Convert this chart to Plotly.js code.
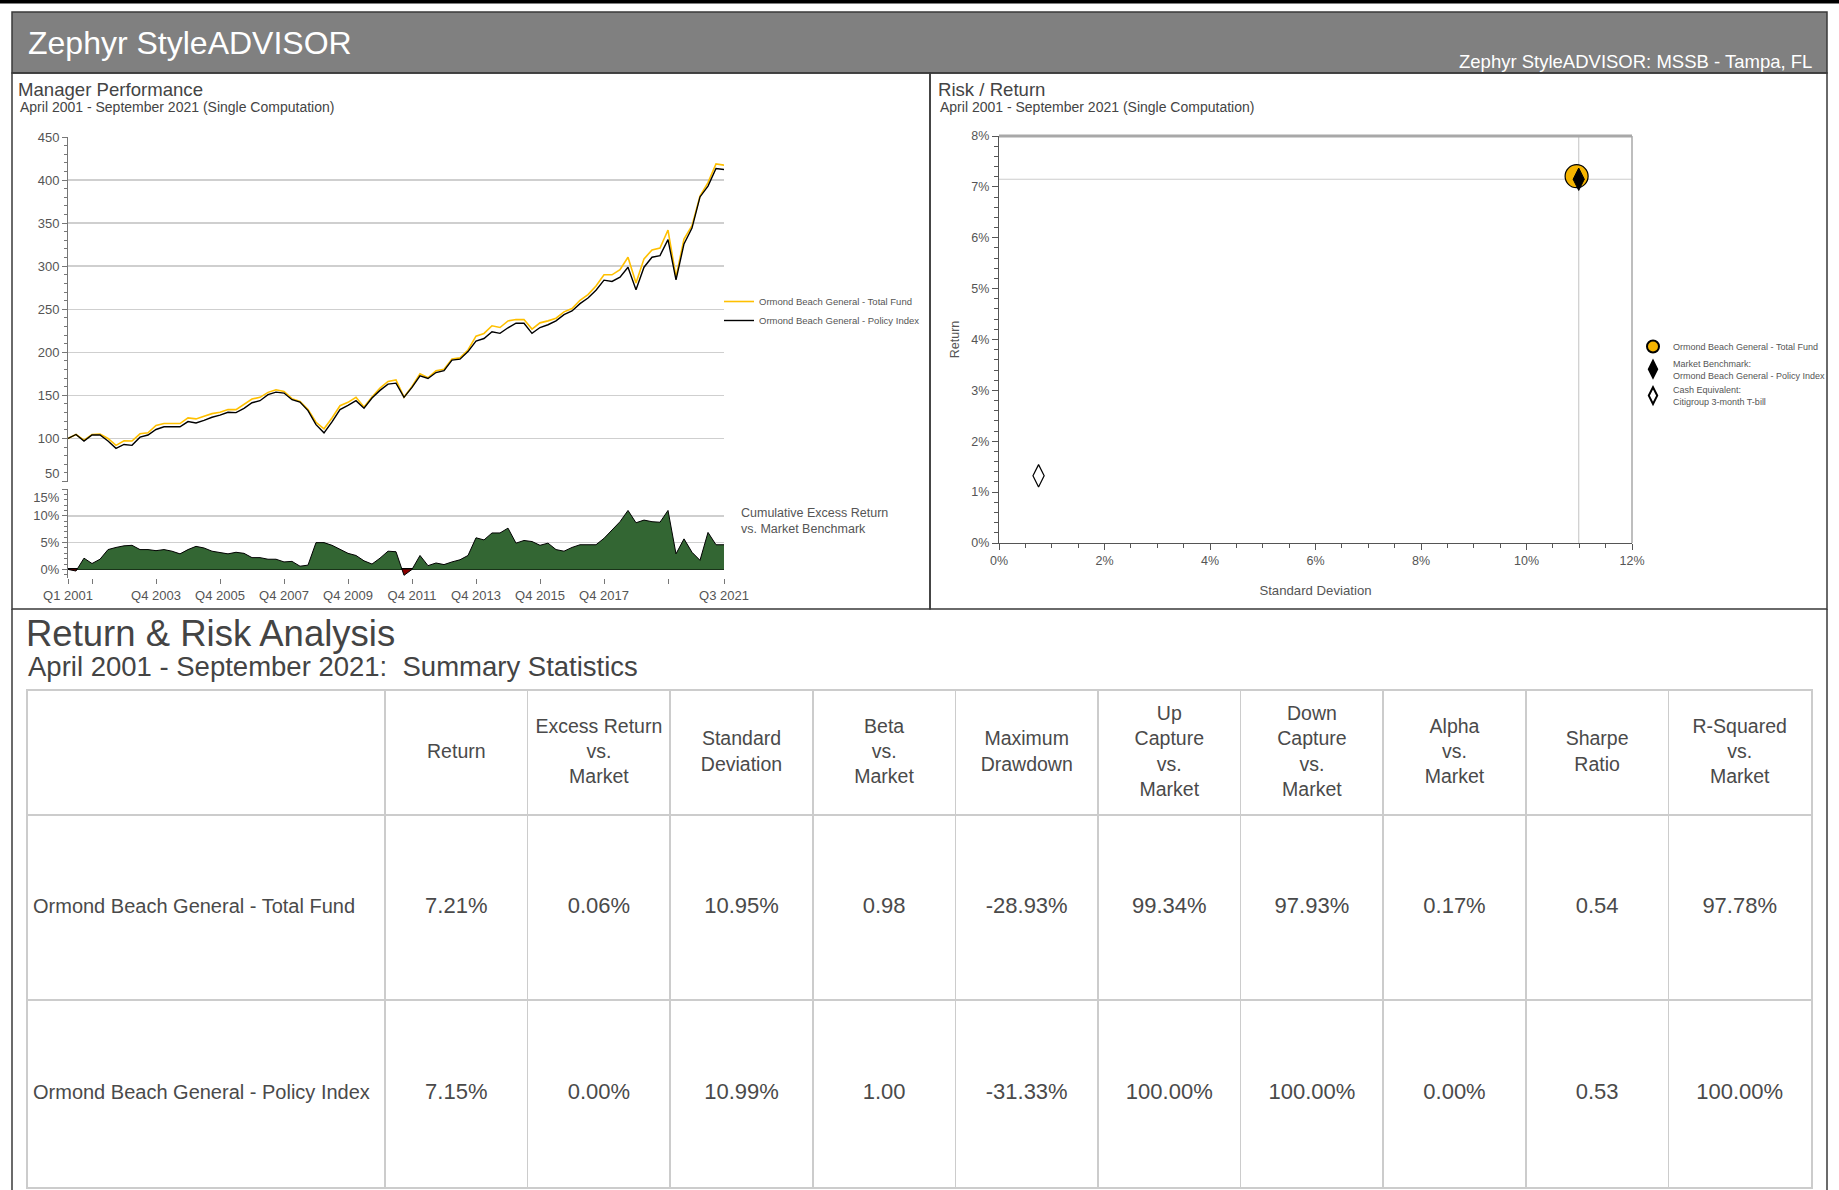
<!DOCTYPE html>
<html>
<head>
<meta charset="utf-8">
<script src="https://cdn.plot.ly/plotly-3.0.1.min.js"></script>
<style>html,body{margin:0;padding:0;background:#fff;}#chart{width:1839px;height:1190px;}</style>
</head>
<body>
<div id="chart"></div>
<script>
// ---------------- DATA ----------------
const quarters = [];
for (let yr = 2001; yr <= 2021; yr++) {
  for (let q = 1; q <= 4; q++) {
    if (yr === 2021 && q > 3) break;
    quarters.push('Q' + q + ' ' + yr);
  }
}
const tickQuarters = ['Q1 2001','Q4 2001','Q4 2003','Q4 2005','Q4 2007','Q4 2009','Q4 2011','Q4 2013','Q4 2015','Q4 2017','Q4 2019','Q3 2021'];
const tickLabels   = ['Q1 2001','','Q4 2003','Q4 2005','Q4 2007','Q4 2009','Q4 2011','Q4 2013','Q4 2015','Q4 2017','','Q3 2021'];

const fundName = 'Ormond Beach General - Total Fund';
const policyName = 'Ormond Beach General - Policy Index';

const fundIndex = [100, 104.6, 98, 104.5, 105, 100, 92, 97.3, 97, 105.4,
 106.5, 115, 117.3, 117.3, 117.3, 123.8, 122.7, 125.8, 128.8, 130.4,
 133.5, 133.5, 139.2, 145.8, 147.7, 153.5, 156.5, 154.6, 146.2, 143,
 133.5, 118.8, 111.2, 123.8, 138, 141.9, 147.7, 136.5, 148, 158.5,
 166.2, 168, 148, 160.4, 175, 170.4, 178.5, 180.4, 192.3, 193.5,
 202.7, 218.8, 221.9, 230.8, 228.8, 236.5, 238, 238, 227, 234.2,
 236.5, 239.6, 247, 250.8, 260.4, 267, 277, 290, 290, 296,
 310.4, 280.4, 308.5, 318.8, 321, 342, 287.3, 331.5, 347, 381.5,
 397, 418.8, 417.3];

const policyIndex = [100, 104.6, 97, 104, 104, 97, 88.5, 93, 92, 101.5,
 104, 110.4, 113.5, 113.5, 113.5, 119.6, 118, 121, 124.6, 127,
 130.4, 130, 135, 141.5, 143.8, 150.8, 153.8, 152.7, 145, 142.3,
 132.3, 116, 106.5, 119.2, 133.5, 138.5, 143.8, 135, 147, 155.8,
 163, 164.2, 147.7, 159.2, 172.7, 169.6, 176.5, 178.8, 191, 192,
 200.8, 213, 216, 223.8, 222, 228.5, 233.8, 233.8, 222, 228.8,
 232, 236.5, 243.8, 248, 256.5, 263, 272, 283.8, 282.3, 287.3,
 298.8, 272.7, 298.8, 310.4, 312.3, 330.8, 284.2, 325.8, 344.2, 380.4,
 393, 413.5, 412.3];

const excessReturn = [0, -0.3, 2.1, 1.1, 1.9, 3.7, 4.1, 4.4, 4.5, 3.7,
 3.7, 3.5, 3.7, 3.4, 2.9, 3.7, 4.3, 4.0, 3.4, 3.2,
 2.9, 3.2, 3.0, 2.2, 2.2, 1.9, 1.9, 1.4, 1.5, 0.6,
 0.8, 5.0, 5.0, 4.5, 3.8, 3.0, 2.6, 1.6, 1.0, 2.1,
 3.4, 3.3, -1.1, 0.0, 2.6, 0.7, 1.2, 0.9, 1.4, 1.8,
 2.6, 5.9, 5.5, 6.8, 6.8, 7.7, 4.9, 5.4, 5.2, 4.5,
 4.9, 3.7, 3.4, 4.1, 4.6, 4.6, 4.6, 5.8, 7.3, 8.9,
 11.0, 8.7, 9.2, 8.9, 8.8, 11.0, 2.9, 5.7, 3.2, 1.7,
 6.9, 4.6, 4.6];

const riskNames = [fundName, 'Market Benchmark:<br>' + policyName, 'Cash Equivalent:<br>Citigroup 3-month T-bill'];
const riskSD = [10.95, 10.99, 0.75];
const riskReturn = [7.21, 7.15, 1.32];

const statHeaders = ['Return', 'Excess Return<br>vs.<br>Market', 'Standard<br>Deviation', 'Beta<br>vs.<br>Market',
  'Maximum<br>Drawdown', 'Up<br>Capture<br>vs.<br>Market', 'Down<br>Capture<br>vs.<br>Market', 'Alpha<br>vs.<br>Market',
  'Sharpe<br>Ratio', 'R-Squared<br>vs.<br>Market'];
const statIsPct = [true, true, true, false, true, true, true, true, false, true];
const rowNames = [fundName, policyName];
const fundStats = [7.21, 0.06, 10.95, 0.98, -28.93, 99.34, 97.93, 0.17, 0.54, 97.78];
const policyStats = [7.15, 0.00, 10.99, 1.00, -31.33, 100.00, 100.00, 0.00, 0.53, 100.00];

// ---------------- LAYOUT HELPERS ----------------
const W = 1839, H = 1190;
const fx = v => v / W;
const fy = v => 1 - v / H;
const FONT = 'Liberation Sans, Arial, Helvetica, sans-serif';
const GRID = '#cfcfcf';
const AX = '#777';
const TXT = '#555';

const xIdx = quarters.map((_, i) => i);
const tickVals = tickQuarters.map(q => quarters.indexOf(q));

function splitSeries(xs, ys) {
  const pos = {x: [], y: []}, neg = {x: [], y: []};
  for (let i = 0; i < ys.length; i++) {
    if (i > 0) {
      const a = ys[i - 1], b = ys[i];
      if ((a > 0 && b < 0) || (a < 0 && b > 0)) {
        const t = a / (a - b);
        const xc = xs[i - 1] + t * (xs[i] - xs[i - 1]);
        pos.x.push(xc); pos.y.push(0);
        neg.x.push(xc); neg.y.push(0);
      }
    }
    pos.x.push(xs[i]); pos.y.push(Math.max(ys[i], 0));
    neg.x.push(xs[i]); neg.y.push(Math.min(ys[i], 0));
  }
  return {pos, neg};
}
const split = splitSeries(xIdx, excessReturn);

// table geometry (pixel units on x4/y4)
const tableW = 1783, firstColW = 357;
const colW = (tableW - firstColW) / statHeaders.length;
const rowHeights = [124, 185, 187];
const rowEdges = [0];
rowHeights.forEach(h => rowEdges.push(rowEdges[rowEdges.length - 1] + h));
const tableH = rowEdges[rowEdges.length - 1];
const colEdges = [0, firstColW];
statHeaders.forEach((_, j) => colEdges.push(firstColW + colW * (j + 1)));
const colCenters = statHeaders.map((_, j) => firstColW + colW * (j + 0.5));
const rowCenters = rowHeights.map((h, i) => rowEdges[i] + h / 2);
const fmt = (v, pct) => v.toFixed(2) + (pct ? '%' : '');

// ---------------- TRACES ----------------
const traces = [];
traces.push({
  type: 'scatter', mode: 'lines', x: xIdx, y: fundIndex, name: fundName,
  line: {color: '#FFC000', width: 1.6}, xaxis: 'x', yaxis: 'y', legend: 'legend', hoverinfo: 'skip'
});
traces.push({
  type: 'scatter', mode: 'lines', x: xIdx, y: policyIndex, name: policyName,
  line: {color: '#000000', width: 1.4}, xaxis: 'x', yaxis: 'y', legend: 'legend', hoverinfo: 'skip'
});
traces.push({
  type: 'scatter', mode: 'lines', x: split.pos.x, y: split.pos.y, fill: 'tozeroy',
  fillcolor: '#336633', line: {width: 0, color: 'rgba(0,0,0,0)'}, showlegend: false,
  xaxis: 'x2', yaxis: 'y2', hoverinfo: 'skip'
});
traces.push({
  type: 'scatter', mode: 'lines', x: split.neg.x, y: split.neg.y, fill: 'tozeroy',
  fillcolor: '#8B0000', line: {width: 0, color: 'rgba(0,0,0,0)'}, showlegend: false,
  xaxis: 'x2', yaxis: 'y2', hoverinfo: 'skip'
});
traces.push({
  type: 'scatter', mode: 'lines', x: xIdx, y: excessReturn, showlegend: false,
  line: {color: '#000', width: 1}, xaxis: 'x2', yaxis: 'y2', hoverinfo: 'skip'
});

const riskMarkers = [
  {symbol: 'circle', size: 23, color: '#F5B400', line: {color: '#000', width: 1.2}},
  {symbol: 'diamond-tall', size: 16, color: '#000', line: {color: '#000', width: 1}},
  {symbol: 'diamond-tall', size: 16, color: '#fff', line: {color: '#000', width: 1.2}}
];
riskNames.forEach((n, i) => {
  traces.push({
    type: 'scatter', mode: 'markers', x: [riskSD[i]], y: [riskReturn[i]], name: n,
    marker: riskMarkers[i], xaxis: 'x3', yaxis: 'y3', legend: 'legend2', hoverinfo: 'skip'
  });
});

// table text
traces.push({
  type: 'scatter', mode: 'text', x: colCenters, y: colCenters.map(() => rowCenters[0]),
  text: statHeaders, textposition: 'middle center',
  textfont: {family: FONT, size: 19.5, color: '#4a4a4a'},
  xaxis: 'x4', yaxis: 'y4', showlegend: false, hoverinfo: 'skip'
});
traces.push({
  type: 'scatter', mode: 'text', x: rowNames.map(() => 5), y: rowNames.map((_, i) => rowCenters[i + 1]),
  text: rowNames, textposition: 'middle right',
  textfont: {family: FONT, size: 20, color: '#4a4a4a'},
  xaxis: 'x4', yaxis: 'y4', showlegend: false, hoverinfo: 'skip'
});
[fundStats, policyStats].forEach((arr, r) => {
  traces.push({
    type: 'scatter', mode: 'text', x: colCenters, y: colCenters.map(() => rowCenters[r + 1]),
    text: arr.map((v, j) => fmt(v, statIsPct[j])), textposition: 'middle center',
    textfont: {family: FONT, size: 22, color: '#4a4a4a'},
    xaxis: 'x4', yaxis: 'y4', showlegend: false, hoverinfo: 'skip'
  });
});

// ---------------- LAYOUT ----------------
const tickFont = {family: FONT, size: 13, color: TXT};
const tickFont3 = {family: FONT, size: 12.5, color: TXT};
const yTopVals = [50, 100, 150, 200, 250, 300, 350, 400, 450];
const yTopText = yTopVals.map(v => v === 50 ? '50<br>\u00a0' : String(v));
const yExVals = [0, 5, 10, 15];
const yExText = yExVals.map(v => v === 15 ? '\u00a0<br>15%' : v + '%');

const layout = {
  width: W, height: H,
  margin: {l: 0, r: 0, t: 0, b: 0, autoexpand: false},
  paper_bgcolor: '#fff', plot_bgcolor: 'rgba(0,0,0,0)',
  font: {family: FONT, color: TXT},
  showlegend: true,
  xaxis: {
    domain: [fx(68), fx(724)], range: [0, quarters.length - 1], anchor: 'y',
    showticklabels: false, ticks: '', showgrid: false, zeroline: false, showline: false, fixedrange: true
  },
  yaxis: {
    domain: [fy(481.5), fy(137)], range: [50, 450], anchor: 'x',
    tickvals: yTopVals, ticktext: yTopText, tickfont: tickFont,
    showgrid: true, gridcolor: GRID, gridwidth: 1.5, zeroline: false,
    showline: true, linecolor: AX, linewidth: 1,
    ticks: 'outside', ticklen: 5, tickcolor: AX,
    minor: {dtick: 10, tick0: 0, ticks: 'outside', ticklen: 3, tickcolor: AX, showgrid: false}
  },
  xaxis2: {
    domain: [fx(68), fx(724)], range: [0, quarters.length - 1], anchor: 'y2',
    tickvals: tickVals, ticktext: tickLabels, tickfont: tickFont,
    ticks: 'outside', ticklen: 5, tickcolor: AX, showgrid: false, zeroline: false, showline: false
  },
  yaxis2: {
    domain: [fy(578), fy(489)], range: [-1.6, 15], anchor: 'x2',
    tickvals: yExVals, ticktext: yExText, tickfont: tickFont,
    showgrid: true, gridcolor: GRID, gridwidth: 1.5,
    zeroline: true, zerolinecolor: '#000', zerolinewidth: 2,
    showline: true, linecolor: AX, linewidth: 1,
    ticks: 'outside', ticklen: 5, tickcolor: AX,
    minor: {dtick: 1, tick0: 0, ticks: 'outside', ticklen: 3, tickcolor: AX, showgrid: false}
  },
  xaxis3: {
    domain: [fx(999), fx(1632)], range: [0, 12], anchor: 'y3',
    dtick: 2, tick0: 0, ticksuffix: '%', tickfont: tickFont3,
    ticks: 'outside', ticklen: 6, tickcolor: '#555',
    minor: {dtick: 0.5, ticks: 'outside', ticklen: 4, tickcolor: '#555', showgrid: false},
    showline: true, linecolor: '#555', linewidth: 1.2, showgrid: false, zeroline: false,
    title: {text: 'Standard Deviation', font: {family: FONT, size: 13.2, color: TXT}, standoff: 18}
  },
  yaxis3: {
    domain: [fy(543), fy(136)], range: [0, 8], anchor: 'x3',
    dtick: 1, tick0: 0, ticksuffix: '%', tickfont: tickFont3,
    ticks: 'outside', ticklen: 6, tickcolor: '#555',
    minor: {dtick: 0.2, ticks: 'outside', ticklen: 4, tickcolor: '#555', showgrid: false},
    showline: true, linecolor: '#555', linewidth: 1.2, showgrid: false, zeroline: false,
    title: {text: 'Return', font: {family: FONT, size: 12.5, color: TXT}, standoff: 8}
  },
  xaxis4: {
    domain: [fx(28), fx(28 + tableW)], range: [0, tableW], anchor: 'y4',
    tickvals: colEdges.slice(1, -1), showticklabels: false, ticks: '',
    showgrid: true, gridcolor: '#cccccc', gridwidth: 1.5, zeroline: false,
    showline: true, mirror: true, linecolor: '#cccccc', linewidth: 2
  },
  yaxis4: {
    domain: [fy(691 + tableH), fy(691)], range: [tableH, 0], anchor: 'x4',
    tickvals: rowEdges.slice(1, -1), showticklabels: false, ticks: '',
    showgrid: true, gridcolor: '#cccccc', gridwidth: 2, zeroline: false,
    showline: true, mirror: true, linecolor: '#cccccc', linewidth: 2
  },
  legend: {
    x: fx(719), y: fy(287), xanchor: 'left', yanchor: 'top',
    font: {family: FONT, size: 9.5, color: TXT}, bgcolor: 'rgba(0,0,0,0)',
    itemwidth: 30, tracegroupgap: 0, traceorder: 'normal'
  },
  legend2: {
    x: fx(1633), y: fy(332), xanchor: 'left', yanchor: 'top',
    font: {family: FONT, size: 9, color: TXT}, bgcolor: 'rgba(0,0,0,0)',
    itemwidth: 30, itemsizing: 'constant', tracegroupgap: 0, traceorder: 'normal'
  },
  shapes: [
    {type: 'rect', xref: 'paper', yref: 'paper', x0: 0, x1: 1, y0: fy(3.5), y1: 1, fillcolor: '#000', line: {width: 0}},
    {type: 'rect', xref: 'paper', yref: 'paper', x0: fx(12), x1: fx(1827), y0: fy(73), y1: fy(12), fillcolor: '#808080', line: {color: '#3a3a3a', width: 1.5}},
    {type: 'rect', xref: 'paper', yref: 'paper', x0: fx(12), x1: fx(930), y0: fy(609), y1: fy(73), line: {color: '#3a3a3a', width: 1.5}},
    {type: 'rect', xref: 'paper', yref: 'paper', x0: fx(930), x1: fx(1827), y0: fy(609), y1: fy(73), line: {color: '#3a3a3a', width: 1.5}},
    {type: 'line', xref: 'paper', yref: 'paper', x0: fx(12), x1: fx(12), y0: 0, y1: fy(609), line: {color: '#3a3a3a', width: 1.5}},
    {type: 'line', xref: 'paper', yref: 'paper', x0: fx(1827), x1: fx(1827), y0: 0, y1: fy(609), line: {color: '#3a3a3a', width: 1.5}},
    // risk/return frame top & right
    {type: 'line', xref: 'x3 domain', yref: 'y3 domain', x0: 0, x1: 1, y0: 1, y1: 1, line: {color: '#a8a8a8', width: 3}},
    {type: 'line', xref: 'x3 domain', yref: 'y3 domain', x0: 1, x1: 1, y0: 0, y1: 1, line: {color: '#a8a8a8', width: 1.5}},
    // crosshair at market benchmark
    {type: 'line', xref: 'x3', yref: 'y3 domain', x0: riskSD[1], x1: riskSD[1], y0: 0, y1: 1, line: {color: '#cccccc', width: 1.2}, layer: 'below'},
    {type: 'line', xref: 'x3 domain', yref: 'y3', x0: 0, x1: 1, y0: riskReturn[1], y1: riskReturn[1], line: {color: '#cccccc', width: 1.2}, layer: 'below'}
  ],
  annotations: [
    {text: 'Zephyr StyleADVISOR', x: fx(26), y: fy(43), xanchor: 'left', yanchor: 'middle', font: {family: FONT, size: 32, color: '#fff'}},
    {text: 'Zephyr StyleADVISOR: MSSB - Tampa, FL', x: fx(1814), y: fy(61), xanchor: 'right', yanchor: 'middle', font: {family: FONT, size: 18.5, color: '#fff'}},
    {text: 'Manager Performance', x: fx(16), y: fy(90), xanchor: 'left', yanchor: 'middle', font: {family: FONT, size: 18.6, color: '#444'}},
    {text: 'April 2001 - September 2021 (Single Computation)', x: fx(18), y: fy(107), xanchor: 'left', yanchor: 'middle', font: {family: FONT, size: 14, color: '#444'}},
    {text: 'Risk / Return', x: fx(936), y: fy(90), xanchor: 'left', yanchor: 'middle', font: {family: FONT, size: 18.6, color: '#444'}},
    {text: 'April 2001 - September 2021 (Single Computation)', x: fx(938), y: fy(107), xanchor: 'left', yanchor: 'middle', font: {family: FONT, size: 14, color: '#444'}},
    {text: 'Cumulative Excess Return<br>vs. Market Benchmark', x: fx(739), y: fy(504), xanchor: 'left', yanchor: 'top', align: 'left', font: {family: FONT, size: 12.5, color: TXT}},
    {text: 'Return & Risk Analysis', x: fx(24), y: fy(633), xanchor: 'left', yanchor: 'middle', font: {family: FONT, size: 36.5, color: '#444'}},
    {text: 'April 2001 - September 2021:\u00a0 Summary Statistics', x: fx(26), y: fy(666), xanchor: 'left', yanchor: 'middle', font: {family: FONT, size: 27.5, color: '#444'}}
  ].map(a => Object.assign({xref: 'paper', yref: 'paper', showarrow: false}, a))
};

Plotly.newPlot('chart', traces, layout, {displayModeBar: false, staticPlot: true});
</script>
</body>
</html>
